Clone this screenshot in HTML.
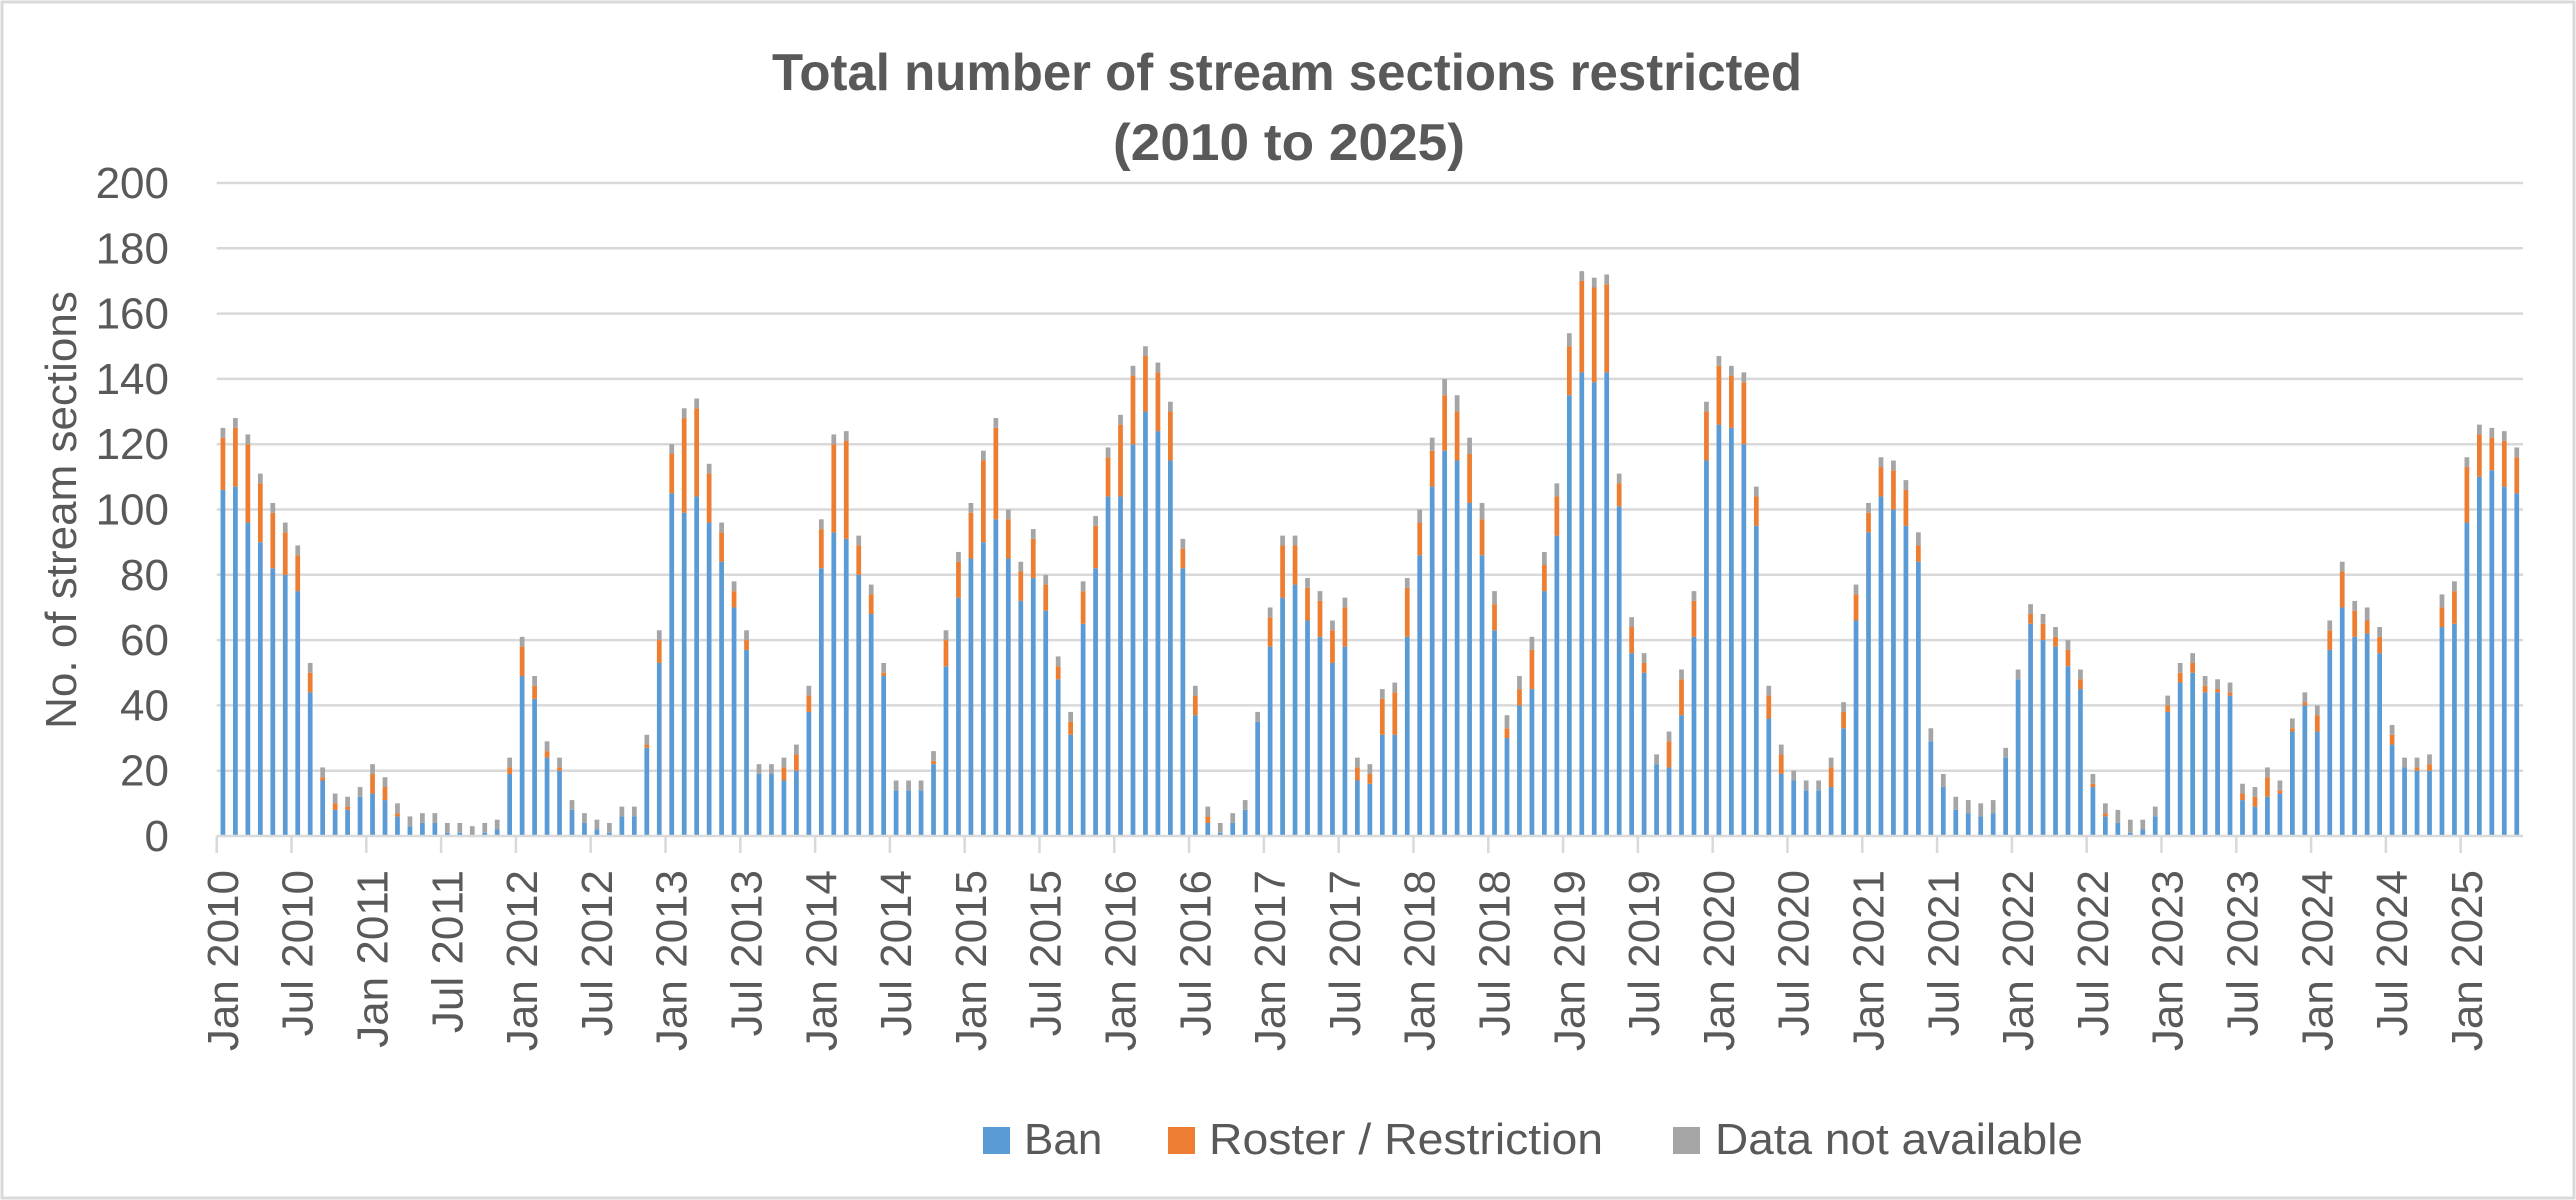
<!DOCTYPE html>
<html><head><meta charset="utf-8">
<style>
html,body{margin:0;padding:0;background:#fff;}
svg{display:block;font-family:"Liberation Sans",Arial,sans-serif;}
</style></head>
<body>
<svg id="chart" width="2576" height="1200" viewBox="0 0 2576 1200" xmlns="http://www.w3.org/2000/svg">
  <rect x="2" y="2" width="2572" height="1196" fill="#fff" stroke="#d9d9d9" stroke-width="3"/>
  <text x="1287" y="90" text-anchor="middle" font-size="52" font-weight="bold" fill="#595959" textLength="1030" lengthAdjust="spacingAndGlyphs">Total number of stream sections restricted</text>
  <text x="1289" y="160" text-anchor="middle" font-size="52" font-weight="bold" fill="#595959" textLength="352" lengthAdjust="spacingAndGlyphs">(2010 to 2025)</text>
  <text transform="translate(76,510) rotate(-90)" text-anchor="middle" font-size="44" fill="#595959">No. of stream sections</text>
  <g id="grid"></g>
  <g id="yticks"></g>
  <g id="bars"></g>
  <g id="xaxis"></g>
  <g>
    <g>
      <rect x="983" y="1127" width="27" height="27" fill="#5B9BD5"/>
      <text x="1024" y="1154" font-size="44" fill="#595959">Ban</text>
    </g>
    <g>
      <rect x="1168" y="1127" width="27" height="27" fill="#ED7D31"/>
      <text x="1209" y="1154" font-size="44" fill="#595959" textLength="394" lengthAdjust="spacingAndGlyphs">Roster / Restriction</text>
    </g>
    <g>
      <rect x="1673" y="1127" width="27" height="27" fill="#A5A5A5"/>
      <text x="1715" y="1154" font-size="44" fill="#595959" textLength="368" lengthAdjust="spacingAndGlyphs">Data not available</text>
    </g>
  </g>
</svg>
<script>
const banValues = [106,107,96,90,82,80,75,44,17,8,8,12,13,11,6,3,4,4,1,1,0,1,2,19,49,42,24,20,8,4,2,1,
6,6,27,53,105,99,104,96,84,70,57,19,19,17,20,38,82,93,91,80,68,49,14,14,14,22,52,73,85,90,97,
85,72,79,69,48,31,65,82,104,104,120,130,124,115,82,37,4,1,4,8,35,58,73,77,66,61,53,58,17,16,31,31,
61,86,107,118,115,102,86,63,30,40,45,75,92,135,142,139,142,101,56,50,22,21,37,61,115,126,125,120,95,36,19,17,
14,14,15,33,66,93,104,100,95,84,29,15,8,7,6,7,24,48,65,60,58,52,45,15,6,4,1,2,6,38,47,50,
44,44,43,11,9,12,13,32,40,32,57,70,61,62,56,28,21,20,20,64,65,96,110,112,107,105];
const rosterValues = [16,18,24,18,17,13,11,6,1,2,1,0,6,4,1,0,0,0,0,0,0,0,0,2,9,4,2,1,0,0,0,0,
0,0,1,7,12,29,27,15,9,5,3,0,0,4,5,5,12,27,30,9,6,1,0,0,0,1,8,11,14,25,28,
12,9,12,8,4,4,10,13,12,22,21,17,18,15,6,6,2,0,0,0,0,9,16,12,10,11,10,12,4,3,11,13,
15,10,11,17,15,15,11,8,3,5,12,8,12,15,28,29,27,7,8,3,0,8,11,11,15,18,16,19,9,7,6,0,
0,0,6,5,8,6,9,12,11,5,0,0,0,0,0,0,0,0,3,5,3,5,3,1,1,0,0,0,0,2,3,3,
2,1,1,2,3,6,1,1,1,5,6,11,8,4,5,3,0,1,2,6,10,17,13,10,14,11];
const naValues = [3,3,3,3,3,3,3,3,3,3,3,3,3,3,3,3,3,3,3,3,3,3,3,3,3,3,3,3,3,3,3,3,
3,3,3,3,3,3,3,3,3,3,3,3,3,3,3,3,3,3,3,3,3,3,3,3,3,3,3,3,3,3,3,
3,3,3,3,3,3,3,3,3,3,3,3,3,3,3,3,3,3,3,3,3,3,3,3,3,3,3,3,3,3,3,3,
3,4,4,5,5,5,5,4,4,4,4,4,4,4,3,3,3,3,3,3,3,3,3,3,3,3,3,3,3,3,3,3,
3,3,3,3,3,3,3,3,3,4,4,4,4,4,4,4,3,3,3,3,3,3,3,3,3,4,4,3,3,3,3,3,
3,3,3,3,3,3,3,3,3,3,3,3,3,4,3,3,3,3,3,4,3,3,3,3,3,3];
const yTickValues = [0,20,40,60,80,100,120,140,160,180,200];
const monthNames = ["Jan","Feb","Mar","Apr","May","Jun","Jul","Aug","Sep","Oct","Nov","Dec"];
const categories = [];
for (let i = 0; i < banValues.length; i++) categories.push(monthNames[i % 12] + " " + (2010 + Math.floor(i / 12)));

const NS = "http://www.w3.org/2000/svg";
const plotLeft = 216.7, plotRight = 2523, plotTop = 183, plotBottom = 836;
const yMax = 200;
const nCat = categories.length;
const band = (plotRight - plotLeft) / nCat;
const barW = band * 0.38;
function yScale(v) { return plotBottom - (v / yMax) * (plotBottom - plotTop); }
function xCenter(i) { return plotLeft + band * (i + 0.5); }

const grid = document.getElementById("grid");
const yticks = document.getElementById("yticks");
yTickValues.forEach(function (v) {
  const y = yScale(v);
  if (v > 0) {
    const ln = document.createElementNS(NS, "line");
    
    
    ln.setAttribute("x1", plotLeft); ln.setAttribute("x2", plotRight);
    ln.setAttribute("y1", y); ln.setAttribute("y2", y);
    ln.setAttribute("stroke", "#d9d9d9"); ln.setAttribute("stroke-width", "2.5");
    grid.appendChild(ln);
  }
  const t = document.createElementNS(NS, "text");
  
  
  t.setAttribute("x", 169); t.setAttribute("y", y + 15);
  t.setAttribute("text-anchor", "end"); t.setAttribute("font-size", "44"); t.setAttribute("fill", "#595959");
  t.textContent = String(v);
  yticks.appendChild(t);
});

const bars = document.getElementById("bars");
const series = [
  {vals: banValues, color: "#5B9BD5", name: "ban"},
  {vals: rosterValues, color: "#ED7D31", name: "roster"},
  {vals: naValues, color: "#A5A5A5", name: "na"}
];
for (let i = 0; i < nCat; i++) {
  let base = 0;
  series.forEach(function (s) {
    const v = s.vals[i];
    if (v > 0) {
      const r = document.createElementNS(NS, "rect");
      
      
      const y1 = yScale(base + v), y0 = yScale(base);
      r.setAttribute("x", xCenter(i) - barW / 2);
      r.setAttribute("width", barW);
      r.setAttribute("y", y1);
      r.setAttribute("height", y0 - y1);
      r.setAttribute("fill", s.color);
      bars.appendChild(r);
    }
    base += v;
  });
}

const xaxis = document.getElementById("xaxis");
const axisLine = document.createElementNS(NS, "line");


axisLine.setAttribute("x1", plotLeft); axisLine.setAttribute("x2", plotRight);
axisLine.setAttribute("y1", plotBottom); axisLine.setAttribute("y2", plotBottom);
axisLine.setAttribute("stroke", "#d9d9d9"); axisLine.setAttribute("stroke-width", "2.5");
xaxis.appendChild(axisLine);
for (let i = 0; i <= nCat; i += 6) {
  const x = plotLeft + band * i;
  const tk = document.createElementNS(NS, "line");
  
  
  tk.setAttribute("x1", x); tk.setAttribute("x2", x);
  tk.setAttribute("y1", plotBottom); tk.setAttribute("y2", plotBottom + 17);
  tk.setAttribute("stroke", "#d9d9d9"); tk.setAttribute("stroke-width", "2.5");
  xaxis.appendChild(tk);
  if (i < nCat) {
    const t = document.createElementNS(NS, "text");
    
    
    const cx = xCenter(i) + 15;
    t.setAttribute("transform", "translate(" + cx + ",870) rotate(-90)");
    t.setAttribute("text-anchor", "end"); t.setAttribute("font-size", "44"); t.setAttribute("fill", "#595959");
    t.textContent = categories[i];
    xaxis.appendChild(t);
  }
}
</script>
</body></html>
